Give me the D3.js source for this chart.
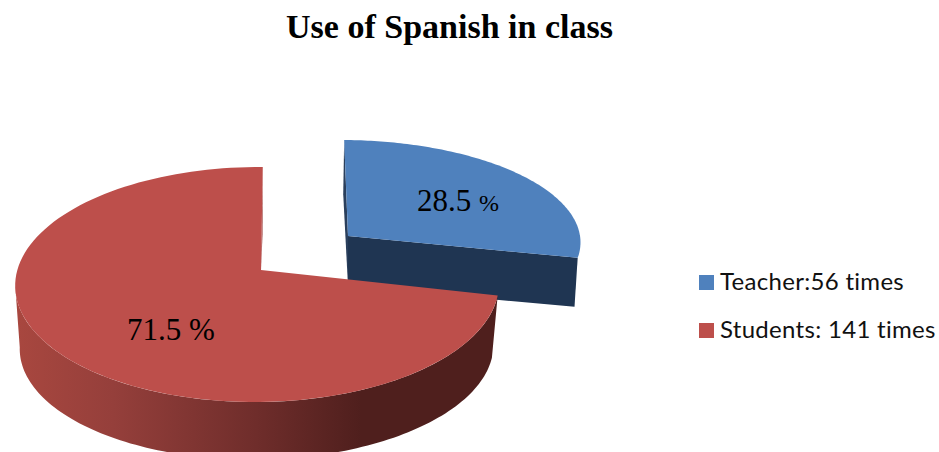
<!DOCTYPE html>
<html>
<head>
<meta charset="utf-8">
<script src="https://cdn.jsdelivr.net/npm/d3@7"></script>
<style>
  html, body { margin: 0; padding: 0; background: #fff; overflow: hidden; }
  svg { display: block; }
</style>
</head>
<body>
<div id="chart"></div>
<script>
// Chart data
const chartTitle = "Use of Spanish in class";
const speakers = ["Teacher", "Students"];
const legendLabels = ["Teacher:56 times", "Students: 141 times"];
const timesUsed = [56, 141];
const sharePercent = [28.5, 71.5];
const faceColors = ["#4f81bd", "#bd4f4b"];

const width = 939, height = 452;
const svg = d3.select("#chart").append("svg")
  .attr("width", width).attr("height", height);

// Perspective view of a flat unit disc: returns a function from pie angle
// and radius fraction to screen coordinates.
function discView({ x0, y0, c, a, b, e, s }) {
  return (theta, r = 1) => {
    const u = r * Math.sin(theta), v = -r * Math.cos(theta);
    const d = 1 - b * v + e * u;
    return [x0 + (c * u + s * v) / d, y0 + a * v / d];
  };
}

const views = {
  Teacher: {
    top: discView({ x0: 348, y0: 236, c: 235.5, a: 100.5, b: 0.047, e: 0.015, s: 4 }),
    bottom: discView({ x0: 348, y0: 286, c: 232, a: 96, b: 0.047, e: 0.015, s: 5 })
  },
  Students: {
    top: discView({ x0: 261, y0: 270, c: 240, a: 115.7, b: 0.1234, e: 0.015, s: -2 }),
    bottom: discView({ x0: 259, y0: 333, c: 235, a: 111, b: 0.1234, e: 0.008, s: -4 })
  }
};

const pie = d3.pie().sort(null).value(d => d);
const slices = pie(sharePercent);
const line = d3.line();
const arcPoints = (view, from, to) =>
  d3.range(0, 121).map(i => view(from + (to - from) * i / 120));

const defs = svg.append("defs");
const grad = defs.append("linearGradient")
  .attr("id", "rimShade")
  .attr("gradientUnits", "userSpaceOnUse")
  .attr("x1", 18).attr("x2", 495).attr("y1", 0).attr("y2", 0);
[[0, "#a8473f"], [0.2, "#953f3b"], [0.5, "#6f2d2b"], [0.72, "#4f1f1d"], [1, "#4f1f1d"]]
  .forEach(([o, col]) => grad.append("stop").attr("offset", o).attr("stop-color", col));

const pieLayer = svg.append("g");

// Teacher wedge: side walls first, then the top face
{
  const { top, bottom } = views.Teacher;
  const { startAngle: a0, endAngle: a1 } = slices[0];
  pieLayer.append("path")
    .attr("d", line([top(a0), top(a0, 0), bottom(a0, 0), bottom(a0)]) + "Z")
    .attr("fill", "#2a3f5c");
  pieLayer.append("path")
    .attr("d", line([top(a1, 0), top(a1), bottom(a1), bottom(a1, 0)]) + "Z")
    .attr("fill", "#1f3552");
  pieLayer.append("path")
    .attr("d", line([top(0, 0), ...arcPoints(top, a0, a1)]) + "Z")
    .attr("fill", faceColors[0]);
}

// Students wedge: thin cut face, outer rim with its shading, then the top face
{
  const { top, bottom } = views.Students;
  const { startAngle: a0, endAngle: a1 } = slices[1];
  pieLayer.append("path")
    .attr("d", line([top(a1), top(a1, 0), bottom(a1)]) + "Z")
    .attr("fill", "#9c4340");
  // The rim stops at the leftmost point of the disc, where its outline is tangent
  const rimEnd = Math.PI * 1.46;
  pieLayer.append("path")
    .attr("d", line([...arcPoints(top, a0, rimEnd), ...arcPoints(bottom, a0, rimEnd).reverse()]) + "Z")
    .attr("fill", "url(#rimShade)");
  pieLayer.append("path")
    .attr("d", line([top(0, 0), ...arcPoints(top, a0, a1)]) + "Z")
    .attr("fill", faceColors[1]);
}

// Title
svg.append("text")
  .attr("x", 449.5).attr("y", 38)
  .attr("text-anchor", "middle")
  .attr("font-family", "'Liberation Serif', serif")
  .attr("font-weight", "bold")
  .attr("font-size", 34)
  .attr("fill", "#000")
  .text(chartTitle);

// Percentage labels
const labelSpots = [
  { x: 417, y: 211, unit: 24 },
  { x: 127, y: 340, unit: 31 }
];
sharePercent.forEach((share, i) => {
  const t = svg.append("text")
    .attr("x", labelSpots[i].x).attr("y", labelSpots[i].y)
    .attr("font-family", "'Liberation Serif', serif")
    .attr("font-size", 31)
    .attr("fill", "#000");
  t.append("tspan").text(d3.format(".1f")(share) + " ");
  t.append("tspan").attr("font-size", labelSpots[i].unit).text("%");
});

// Legend
const legendY = d3.scalePoint().domain(speakers).range([282.5, 330.5]);
const legend = svg.selectAll("g.legend").data(speakers).join("g")
  .attr("class", "legend")
  .attr("transform", d => `translate(0,${legendY(d)})`);
legend.append("rect")
  .attr("x", 699).attr("y", -7.5).attr("width", 15).attr("height", 15)
  .attr("fill", (d, i) => faceColors[i]);
legend.append("text")
  .attr("x", 720).attr("y", 7)
  .attr("font-family", "Lato, sans-serif")
  .attr("font-size", 24)
  .attr("letter-spacing", 0.3)
  .attr("fill", "#111")
  .text((d, i) => legendLabels[i]);
</script>
</body>
</html>
